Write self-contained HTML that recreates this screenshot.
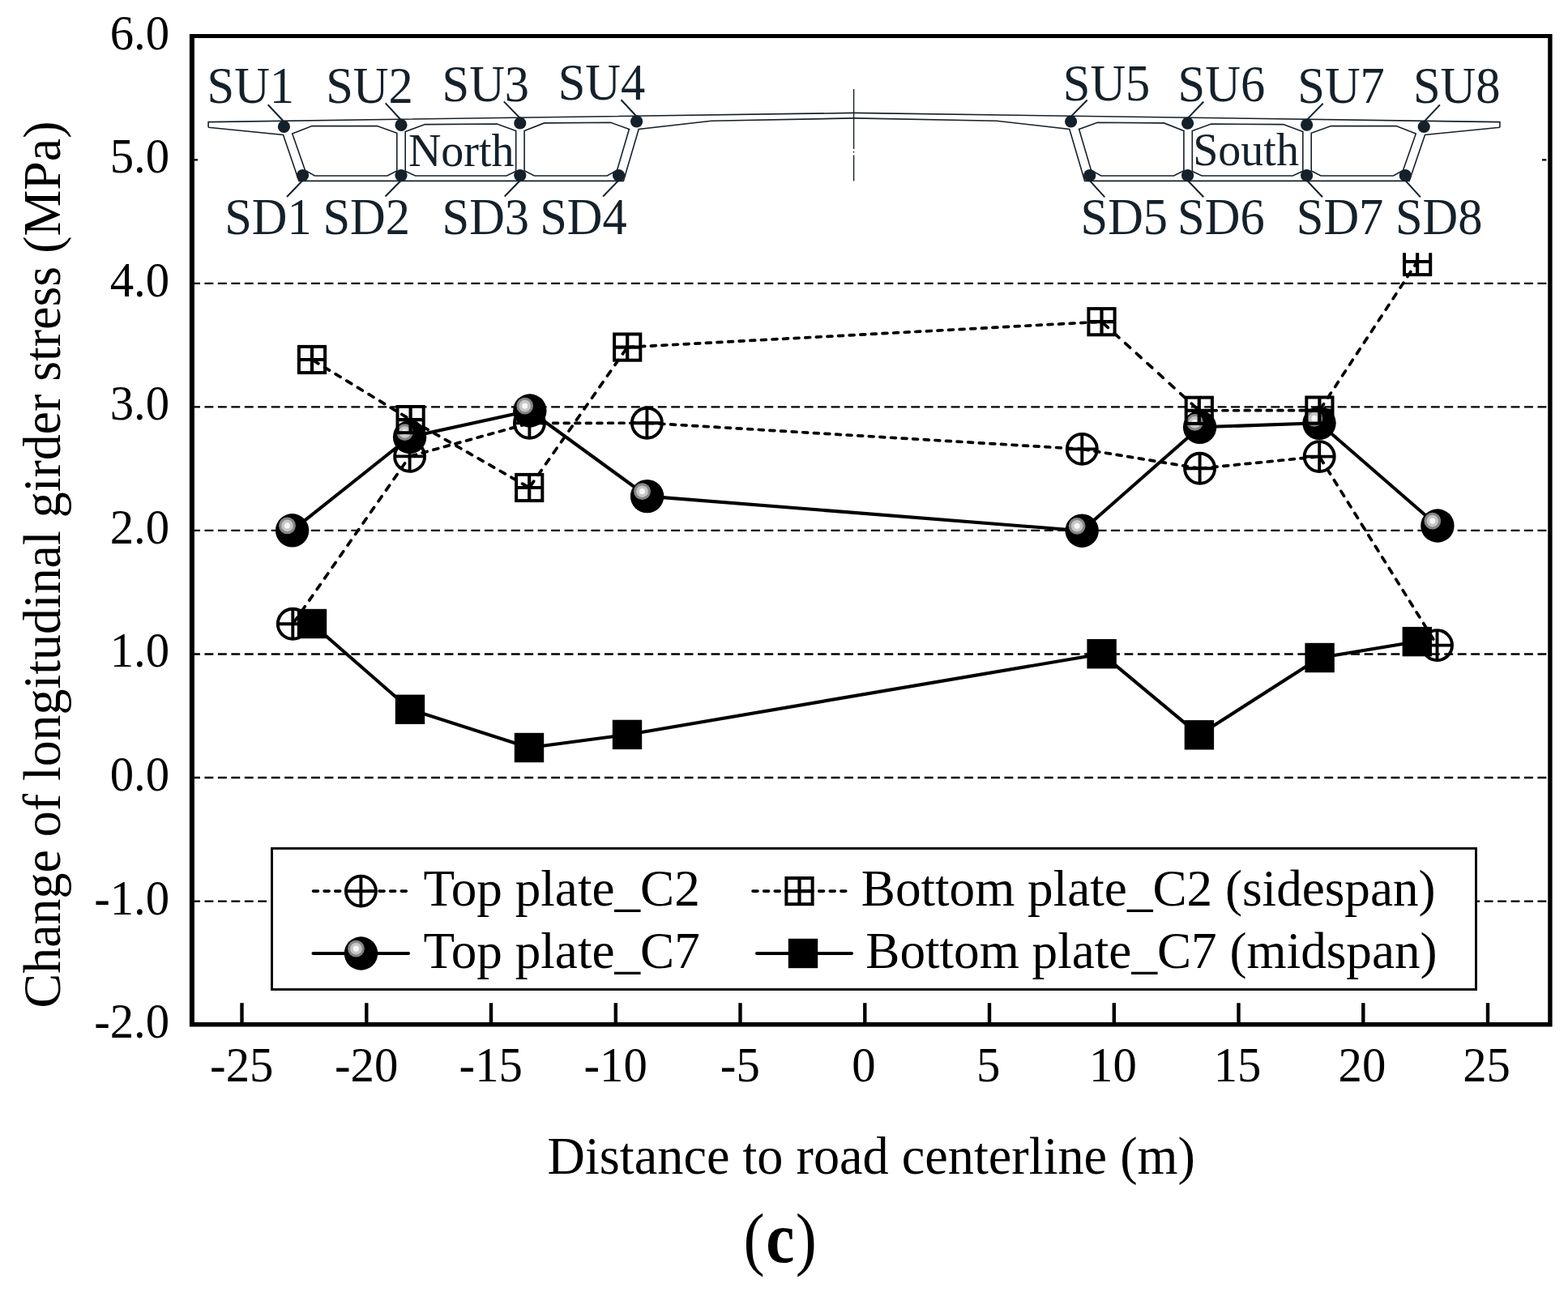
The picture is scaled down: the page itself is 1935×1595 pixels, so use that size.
<!DOCTYPE html>
<html lang="en"><head><meta charset="utf-8"><title>Change of longitudinal girder stress (c)</title>
<style>html,body{margin:0;padding:0;background:#fff;}body{width:1935px;height:1595px;overflow:hidden;}svg{display:block;}text{font-family:"Liberation Serif","Times New Roman",serif;fill:#000;}</style>
</head><body>
<svg width="1935" height="1595" viewBox="0 0 1935 1595">
<rect width="1935" height="1595" fill="#fff"/>
<g id="grid" stroke="#000" stroke-width="2.3" stroke-dasharray="10.9 5.55" stroke-dashoffset="4" fill="none">
<line x1="240" x2="1910" y1="197.3" y2="197.3"/>
<line x1="240" x2="1910" y1="349.9" y2="349.9"/>
<line x1="240" x2="1910" y1="502.4" y2="502.4"/>
<line x1="240" x2="1910" y1="654.9" y2="654.9"/>
<line x1="240" x2="1910" y1="807.5" y2="807.5"/>
<line x1="240" x2="1910" y1="960.0" y2="960.0"/>
<line x1="240" x2="1910" y1="1112.6" y2="1112.6"/>
</g>
<g id="series">
<g fill="none" stroke="#000" stroke-width="3.7" stroke-linecap="round"><line x1="361.3" y1="770.3" x2="505.6" y2="563.4" stroke-dasharray="7.19 9.39" stroke-dashoffset="-2.44"/><line x1="505.6" y1="563.4" x2="653.4" y2="522.4" stroke-dasharray="6.12 7.99" stroke-dashoffset="-2.08"/><line x1="653.4" y1="522.4" x2="798.4" y2="522.2" stroke-dasharray="5.90 7.70" stroke-dashoffset="-2.00"/><line x1="798.4" y1="522.2" x2="1335.3" y2="554.4" stroke-dasharray="5.91 7.71" stroke-dashoffset="-2.00"/><line x1="1335.3" y1="554.4" x2="1480.6" y2="578.3" stroke-dasharray="5.98 7.80" stroke-dashoffset="-2.03"/><line x1="1480.6" y1="578.3" x2="1628.2" y2="563.6" stroke-dasharray="5.93 7.74" stroke-dashoffset="-2.01"/><line x1="1628.2" y1="563.6" x2="1773.5" y2="796.6" stroke-dasharray="6.95 9.07" stroke-dashoffset="-2.36"/></g>
<g stroke="#000" stroke-width="3.9" fill="none"><circle cx="361.3" cy="770.3" r="18.5"/><path d="M342.8 770.3H379.8M361.3 751.8V788.8"/></g>
<g stroke="#000" stroke-width="3.9" fill="none"><circle cx="505.6" cy="563.4" r="18.5"/><path d="M487.1 563.4H524.1M505.6 544.9V581.9"/></g>
<g stroke="#000" stroke-width="3.9" fill="none"><circle cx="653.4" cy="522.4" r="18.5"/><path d="M634.9 522.4H671.9M653.4 503.9V540.9"/></g>
<g stroke="#000" stroke-width="3.9" fill="none"><circle cx="798.4" cy="522.2" r="18.5"/><path d="M779.9 522.2H816.9M798.4 503.7V540.7"/></g>
<g stroke="#000" stroke-width="3.9" fill="none"><circle cx="1335.3" cy="554.4" r="18.5"/><path d="M1316.8 554.4H1353.8M1335.3 535.9V572.9"/></g>
<g stroke="#000" stroke-width="3.9" fill="none"><circle cx="1480.6" cy="578.3" r="18.5"/><path d="M1462.1 578.3H1499.1M1480.6 559.8V596.8"/></g>
<g stroke="#000" stroke-width="3.9" fill="none"><circle cx="1628.2" cy="563.6" r="18.5"/><path d="M1609.7 563.6H1646.7M1628.2 545.1V582.1"/></g>
<g stroke="#000" stroke-width="3.9" fill="none"><circle cx="1773.5" cy="796.6" r="18.5"/><path d="M1755.0 796.6H1792.0M1773.5 778.1V815.1"/></g>
<polyline points="360.6,654.8 505.6,539.5 653.8,507.0 798.6,612.6 1335.2,655.2 1480.6,527.3 1628.0,522.3 1773.9,649.0" fill="none" stroke="#000" stroke-width="4.1" stroke-linejoin="round"/>
<g><circle cx="360.6" cy="654.8" r="20.7" fill="#000"/><circle cx="354.5" cy="648.9" r="10.4" fill="#868686"/><circle cx="354.5" cy="648.9" r="7.3" fill="#c6c6c6"/><circle cx="354.5" cy="648.9" r="3.6" fill="#f6f6f6"/></g>
<g><circle cx="505.6" cy="539.5" r="20.7" fill="#000"/><circle cx="499.5" cy="533.6" r="10.4" fill="#868686"/><circle cx="499.5" cy="533.6" r="7.3" fill="#c6c6c6"/><circle cx="499.5" cy="533.6" r="3.6" fill="#f6f6f6"/></g>
<g><circle cx="653.8" cy="507.0" r="20.7" fill="#000"/><circle cx="647.7" cy="501.1" r="10.4" fill="#868686"/><circle cx="647.7" cy="501.1" r="7.3" fill="#c6c6c6"/><circle cx="647.7" cy="501.1" r="3.6" fill="#f6f6f6"/></g>
<g><circle cx="798.6" cy="612.6" r="20.7" fill="#000"/><circle cx="792.5" cy="606.7" r="10.4" fill="#868686"/><circle cx="792.5" cy="606.7" r="7.3" fill="#c6c6c6"/><circle cx="792.5" cy="606.7" r="3.6" fill="#f6f6f6"/></g>
<g><circle cx="1335.2" cy="655.2" r="20.7" fill="#000"/><circle cx="1329.1" cy="649.3" r="10.4" fill="#868686"/><circle cx="1329.1" cy="649.3" r="7.3" fill="#c6c6c6"/><circle cx="1329.1" cy="649.3" r="3.6" fill="#f6f6f6"/></g>
<g><circle cx="1480.6" cy="527.3" r="20.7" fill="#000"/><circle cx="1474.5" cy="521.4" r="10.4" fill="#868686"/><circle cx="1474.5" cy="521.4" r="7.3" fill="#c6c6c6"/><circle cx="1474.5" cy="521.4" r="3.6" fill="#f6f6f6"/></g>
<g><circle cx="1628.0" cy="522.3" r="20.7" fill="#000"/><circle cx="1621.9" cy="516.4" r="10.4" fill="#868686"/><circle cx="1621.9" cy="516.4" r="7.3" fill="#c6c6c6"/><circle cx="1621.9" cy="516.4" r="3.6" fill="#f6f6f6"/></g>
<g><circle cx="1773.9" cy="649.0" r="20.7" fill="#000"/><circle cx="1767.8" cy="643.1" r="10.4" fill="#868686"/><circle cx="1767.8" cy="643.1" r="7.3" fill="#c6c6c6"/><circle cx="1767.8" cy="643.1" r="3.6" fill="#f6f6f6"/></g>
<g fill="none" stroke="#000" stroke-width="3.7" stroke-linecap="round"><line x1="385.0" y1="444.0" x2="506.6" y2="518.1" stroke-dasharray="6.91 9.02" stroke-dashoffset="-2.34"/><line x1="506.6" y1="518.1" x2="653.2" y2="602.0" stroke-dasharray="6.80 8.87" stroke-dashoffset="-2.30"/><line x1="653.2" y1="602.0" x2="774.2" y2="428.6" stroke-dasharray="7.19 9.39" stroke-dashoffset="-2.44"/><line x1="774.2" y1="428.6" x2="1359.5" y2="397.2" stroke-dasharray="5.91 7.71" stroke-dashoffset="-2.00"/><line x1="1359.5" y1="397.2" x2="1479.8" y2="506.8" stroke-dasharray="7.98 10.42" stroke-dashoffset="-2.71"/><line x1="1479.8" y1="506.8" x2="1628.4" y2="506.6" stroke-dasharray="5.90 7.70" stroke-dashoffset="-2.00"/><line x1="1628.4" y1="506.6" x2="1749.1" y2="323.0" stroke-dasharray="7.06 9.21" stroke-dashoffset="-2.39"/></g>
<g stroke="#000" fill="none"><rect x="368.9" y="427.9" width="32.2" height="32.2" stroke-width="4.0"/><path stroke-width="4.2" d="M368.9 444.0H401.1M385.0 427.9V460.1"/></g>
<g stroke="#000" fill="none"><rect x="490.5" y="502.0" width="32.2" height="32.2" stroke-width="4.0"/><path stroke-width="4.2" d="M490.5 518.1H522.7M506.6 502.0V534.2"/></g>
<g stroke="#000" fill="none"><rect x="637.1" y="585.9" width="32.2" height="32.2" stroke-width="4.0"/><path stroke-width="4.2" d="M637.1 602.0H669.3M653.2 585.9V618.1"/></g>
<g stroke="#000" fill="none"><rect x="758.1" y="412.5" width="32.2" height="32.2" stroke-width="4.0"/><path stroke-width="4.2" d="M758.1 428.6H790.3M774.2 412.5V444.7"/></g>
<g stroke="#000" fill="none"><rect x="1343.4" y="381.1" width="32.2" height="32.2" stroke-width="4.0"/><path stroke-width="4.2" d="M1343.4 397.2H1375.6M1359.5 381.1V413.3"/></g>
<g stroke="#000" fill="none"><rect x="1463.7" y="490.7" width="32.2" height="32.2" stroke-width="4.0"/><path stroke-width="4.2" d="M1463.7 506.8H1495.9M1479.8 490.7V522.9"/></g>
<g stroke="#000" fill="none"><rect x="1612.3" y="490.5" width="32.2" height="32.2" stroke-width="4.0"/><path stroke-width="4.2" d="M1612.3 506.6H1644.5M1628.4 490.5V522.7"/></g>
<g stroke="#000" fill="none"><rect x="1733.0" y="306.9" width="32.2" height="32.2" stroke-width="4.0"/><path stroke-width="4.2" d="M1733.0 323.0H1765.2M1749.1 306.9V339.1"/></g>
<polyline points="385.0,770.0 506.0,875.8 653.0,923.0 774.0,906.9 1359.6,807.2 1479.9,907.3 1628.6,812.0 1748.8,792.1" fill="none" stroke="#000" stroke-width="4.1" stroke-linejoin="round"/>
<rect x="366.8" y="751.8" width="36.4" height="36.4" fill="#000"/>
<rect x="487.8" y="857.6" width="36.4" height="36.4" fill="#000"/>
<rect x="634.8" y="904.8" width="36.4" height="36.4" fill="#000"/>
<rect x="755.8" y="888.7" width="36.4" height="36.4" fill="#000"/>
<rect x="1341.4" y="789.0" width="36.4" height="36.4" fill="#000"/>
<rect x="1461.7" y="889.1" width="36.4" height="36.4" fill="#000"/>
<rect x="1610.4" y="793.8" width="36.4" height="36.4" fill="#000"/>
<rect x="1730.6" y="773.9" width="36.4" height="36.4" fill="#000"/>
</g>
<g id="bridge">
<rect x="244" y="62" width="1659" height="250.2" fill="#fff"/>
<g fill="none" stroke="#14212b" stroke-width="1.6" stroke-linejoin="miter">
<path d="M257.1 157.3 L257.1 150.6 L1054.0 139.4 M257.1 157.3 L349.5 166.4 L368.9 223.4 L769.4 223.4 L788.2 159.5 L878.0 149.2 L1054.0 145.9 M360.7 165.0 L385.0 155.6 L465.4 155.6 L489.8 164.3 L489.8 210.9 L478.0 217.0 L388.4 217.0 L376.5 210.2Z M500.2 162.6 L524.4 153.6 L613.3 153.0 L636.7 161.6 L636.7 211.4 L625.0 217.0 L512.6 217.0 L500.2 211.2Z M647.1 161.4 L671.5 151.9 L753.7 151.2 L776.4 159.6 L761.5 210.3 L749.2 217.0 L659.4 217.0 L647.1 210.8Z"/>
<path d="M1850.9 157.3 L1850.9 150.6 L1054.0 139.4 M1850.9 157.3 L1758.5 166.4 L1739.1 223.4 L1338.6 223.4 L1319.8 159.5 L1230.0 149.2 L1054.0 145.9 M1747.3 165.0 L1723.0 155.6 L1642.6 155.6 L1618.2 164.3 L1618.2 210.9 L1630.0 217.0 L1719.6 217.0 L1731.5 210.2Z M1607.8 162.6 L1583.6 153.6 L1494.7 153.0 L1471.3 161.6 L1471.3 211.4 L1483.0 217.0 L1595.4 217.0 L1607.8 211.2Z M1460.9 161.4 L1436.5 151.9 L1354.3 151.2 L1331.6 159.6 L1346.5 210.3 L1358.8 217.0 L1448.6 217.0 L1460.9 210.8Z"/>
<path d="M1053.6 110V184M1053.6 186.8v1.8M1053.6 191.5V223.6" stroke-width="1.4"/>
</g>
<path d="M330.7 129.3L350.4 150.3M475.7 127.4L495.0 148.3M621.9 125.4L641.8 145.9M766.5 123.3L785.6 143.8M354.0 243.0L373.5 222.7M475.5 242.5L495.0 222.7M622.7 242.5L641.8 222.7M744.2 242.5L763.5 222.7M1341.7 123.5L1321.6 143.9M1485.3 125.5L1465.6 146.1M1632.7 127.8L1612.6 148.1M1776.9 129.4L1757.2 150.4M1363.3 243.3L1344.7 222.8M1485.3 243.3L1465.6 222.8M1632.0 243.3L1612.6 222.8M1752.9 243.3L1734.3 222.8" fill="none" stroke="#14212b" stroke-width="2"/>
<g fill="#14212b">
<circle cx="350.4" cy="156.4" r="7.6"/>
<circle cx="495.0" cy="154.4" r="7.6"/>
<circle cx="641.8" cy="152.0" r="7.6"/>
<circle cx="785.6" cy="149.9" r="7.6"/>
<circle cx="373.5" cy="216.6" r="7.6"/>
<circle cx="495.0" cy="216.6" r="7.6"/>
<circle cx="641.8" cy="216.6" r="7.6"/>
<circle cx="763.5" cy="216.6" r="7.6"/>
<circle cx="1321.6" cy="150.0" r="7.6"/>
<circle cx="1465.6" cy="152.2" r="7.6"/>
<circle cx="1612.6" cy="154.2" r="7.6"/>
<circle cx="1757.2" cy="156.5" r="7.6"/>
<circle cx="1344.7" cy="216.7" r="7.6"/>
<circle cx="1465.6" cy="216.7" r="7.6"/>
<circle cx="1612.6" cy="216.7" r="7.6"/>
<circle cx="1734.3" cy="216.7" r="7.6"/>
</g>
<g font-size="63.2">
<text transform="translate(255.5,126.7) scale(0.957,1)" style="fill:#14212b">SU1</text>
<text transform="translate(402.2,127.0) scale(0.957,1)" style="fill:#14212b">SU2</text>
<text transform="translate(545.5,124.9) scale(0.957,1)" style="fill:#14212b">SU3</text>
<text transform="translate(688.7,123.4) scale(0.957,1)" style="fill:#14212b">SU4</text>
<text transform="translate(277.2,288.5) scale(0.957,1)" style="fill:#14212b">SD1</text>
<text transform="translate(398.4,288.5) scale(0.957,1)" style="fill:#14212b">SD2</text>
<text transform="translate(545.5,288.5) scale(0.957,1)" style="fill:#14212b">SD3</text>
<text transform="translate(666.2,288.5) scale(0.957,1)" style="fill:#14212b">SD4</text>
<text transform="translate(1311.8,124.4) scale(0.957,1)" style="fill:#14212b">SU5</text>
<text transform="translate(1453.6,125.0) scale(0.957,1)" style="fill:#14212b">SU6</text>
<text transform="translate(1601.3,127.3) scale(0.957,1)" style="fill:#14212b">SU7</text>
<text transform="translate(1743.9,126.9) scale(0.957,1)" style="fill:#14212b">SU8</text>
<text transform="translate(1333.5,288.9) scale(0.957,1)" style="fill:#14212b">SD5</text>
<text transform="translate(1453.1,288.9) scale(0.957,1)" style="fill:#14212b">SD6</text>
<text transform="translate(1599.8,288.9) scale(0.957,1)" style="fill:#14212b">SD7</text>
<text transform="translate(1721.9,288.9) scale(0.957,1)" style="fill:#14212b">SD8</text>
</g>
<text x="503.9" y="204.5" font-size="56" style="fill:#14212b">North</text>
<text x="1472.2" y="204.4" font-size="56" style="fill:#14212b">South</text>
</g>
<g id="legend">
<rect x="335.5" y="1047.4" width="1486" height="174.1" fill="#fff" stroke="#000" stroke-width="2.9"/>
<g stroke="#000" fill="none">
<path d="M386.5 1100.1 H502 M929 1100.1 H1044" stroke-width="3.6" stroke-linecap="round" stroke-dasharray="6 7.6"/>
<path d="M386.5 1177.0 H504 M934 1177.0 H1051" stroke-width="4.0" stroke-linecap="round"/>
</g>
<g stroke="#000" stroke-width="3.9" fill="none"><circle cx="445.4" cy="1100.1" r="18.5"/><path d="M426.9 1100.1H463.9M445.4 1081.6V1118.6"/></g>
<g stroke="#000" fill="none"><rect x="970.4" y="1084.0" width="32.2" height="32.2" stroke-width="4.0"/><path stroke-width="4.2" d="M970.4 1100.1H1002.6M986.5 1084.0V1116.2"/></g>
<g><circle cx="445.5" cy="1177.0" r="20.7" fill="#000"/><circle cx="439.4" cy="1171.1" r="10.4" fill="#868686"/><circle cx="439.4" cy="1171.1" r="7.3" fill="#c6c6c6"/><circle cx="439.4" cy="1171.1" r="3.6" fill="#f6f6f6"/></g>
<rect x="972.8" y="1158.8" width="36.4" height="36.4" fill="#000"/>
<g font-size="64.4">
<text transform="translate(522.6,1117.8) scale(0.981,1)">Top plate_C2</text>
<text transform="translate(522.6,1194.6) scale(0.981,1)">Top plate_C7</text>
<text transform="translate(1062.8,1117.8) scale(0.981,1)">Bottom plate_C2 (sidespan)</text>
<text transform="translate(1068.3,1194.6) scale(0.981,1)">Bottom plate_C7 (midspan)</text>
</g>
</g>
<path fill="#000" fill-rule="evenodd" d="M233.9 41.9H1915.6V1267.5H233.9Z M239.9 47V1262.1H1910.2V47Z"/>
<g stroke="#000" stroke-width="4.4">
<line x1="298.5" x2="298.5" y1="1238.2" y2="1263"/>
<line x1="452.3" x2="452.3" y1="1238.2" y2="1263"/>
<line x1="606.0" x2="606.0" y1="1238.2" y2="1263"/>
<line x1="759.8" x2="759.8" y1="1238.2" y2="1263"/>
<line x1="913.5" x2="913.5" y1="1238.2" y2="1263"/>
<line x1="1067.3" x2="1067.3" y1="1238.2" y2="1263"/>
<line x1="1221.0" x2="1221.0" y1="1238.2" y2="1263"/>
<line x1="1374.8" x2="1374.8" y1="1238.2" y2="1263"/>
<line x1="1528.5" x2="1528.5" y1="1238.2" y2="1263"/>
<line x1="1682.3" x2="1682.3" y1="1238.2" y2="1263"/>
<line x1="1836.0" x2="1836.0" y1="1238.2" y2="1263"/>
</g>
<text transform="translate(209.2,60.7) scale(0.972,1)" font-size="60.5" text-anchor="end">6.0</text>
<text transform="translate(209.2,213.2) scale(0.972,1)" font-size="60.5" text-anchor="end">5.0</text>
<text transform="translate(209.2,365.8) scale(0.972,1)" font-size="60.5" text-anchor="end">4.0</text>
<text transform="translate(209.2,518.3) scale(0.972,1)" font-size="60.5" text-anchor="end">3.0</text>
<text transform="translate(209.2,670.9) scale(0.972,1)" font-size="60.5" text-anchor="end">2.0</text>
<text transform="translate(209.2,823.4) scale(0.972,1)" font-size="60.5" text-anchor="end">1.0</text>
<text transform="translate(209.2,975.9) scale(0.972,1)" font-size="60.5" text-anchor="end">0.0</text>
<text transform="translate(209.2,1128.5) scale(0.972,1)" font-size="60.5" text-anchor="end">-1.0</text>
<text transform="translate(209.2,1281.0) scale(0.972,1)" font-size="60.5" text-anchor="end">-2.0</text>
<text transform="translate(298.3,1334.8) scale(0.972,1)" font-size="60.5" text-anchor="middle">-25</text>
<text transform="translate(452.1,1334.8) scale(0.972,1)" font-size="60.5" text-anchor="middle">-20</text>
<text transform="translate(605.8,1334.8) scale(0.972,1)" font-size="60.5" text-anchor="middle">-15</text>
<text transform="translate(759.6,1334.8) scale(0.972,1)" font-size="60.5" text-anchor="middle">-10</text>
<text transform="translate(913.3,1334.8) scale(0.972,1)" font-size="60.5" text-anchor="middle">-5</text>
<text transform="translate(1065.9,1334.8) scale(0.972,1)" font-size="60.5" text-anchor="middle">0</text>
<text transform="translate(1219.6,1334.8) scale(0.972,1)" font-size="60.5" text-anchor="middle">5</text>
<text transform="translate(1373.4,1334.8) scale(0.972,1)" font-size="60.5" text-anchor="middle">10</text>
<text transform="translate(1527.1,1334.8) scale(0.972,1)" font-size="60.5" text-anchor="middle">15</text>
<text transform="translate(1680.9,1334.8) scale(0.972,1)" font-size="60.5" text-anchor="middle">20</text>
<text transform="translate(1834.6,1334.8) scale(0.972,1)" font-size="60.5" text-anchor="middle">25</text>
<text transform="translate(1075.3,1449.4) scale(0.989,1)" font-size="65.0" text-anchor="middle">Distance to road centerline (m)</text>
<text transform="translate(73.8,697) rotate(-90) scale(0.98,1)" font-size="65.2" text-anchor="middle">Change of longitudinal girder stress (MPa)</text>
<text transform="translate(0,1558.1) scale(0.9,1)" font-size="87"><tspan x="1019.4">(</tspan><tspan x="1050.2" font-weight="bold" font-size="88">c</tspan><tspan x="1090.8">)</tspan></text>
</svg></body></html>
